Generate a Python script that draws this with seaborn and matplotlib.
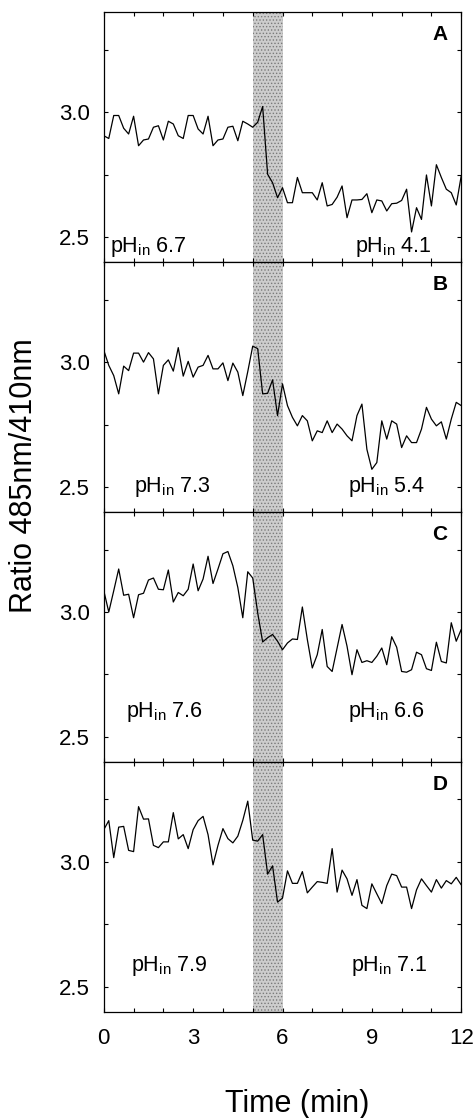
import numpy as np
import pandas as pd
import matplotlib
matplotlib.use('Agg')
import matplotlib.pyplot as plt
import seaborn as sns
from matplotlib.ticker import MultipleLocator

# sampling grid: one reading every 10 s for 12 min
time_s = np.arange(0, 730, 10)

ratio_a = [2.906, 2.895, 2.987, 2.987, 2.936, 2.913, 2.984, 2.866, 2.889, 2.893,
           2.940, 2.946, 2.889, 2.964, 2.953, 2.906, 2.895, 2.987, 2.987, 2.933,
           2.913, 2.984, 2.866, 2.889, 2.893, 2.940, 2.944, 2.886, 2.964, 2.953,
           2.940, 2.960, 3.023, 2.752, 2.718, 2.658, 2.698, 2.638, 2.638, 2.739,
           2.678, 2.678, 2.678, 2.649, 2.718, 2.625, 2.631, 2.660, 2.705, 2.578,
           2.649, 2.649, 2.651, 2.674, 2.598, 2.649, 2.645, 2.605, 2.634, 2.636,
           2.647, 2.692, 2.521, 2.618, 2.571, 2.749, 2.625, 2.790, 2.739, 2.692,
           2.678, 2.629, 2.745]
ratio_b = [3.047, 2.987, 2.946, 2.873, 2.984, 2.966, 3.036, 3.036, 3.000, 3.038,
           3.013, 2.873, 2.987, 3.009, 2.964, 3.058, 2.944, 3.003, 2.940, 2.980,
           2.987, 3.027, 2.973, 2.973, 2.997, 2.926, 2.996, 2.960, 2.866, 2.962,
           3.064, 3.054, 2.873, 2.875, 2.929, 2.786, 2.913, 2.826, 2.779, 2.745,
           2.786, 2.765, 2.685, 2.725, 2.718, 2.765, 2.718, 2.752, 2.732, 2.705,
           2.685, 2.786, 2.832, 2.651, 2.571, 2.598, 2.765, 2.692, 2.765, 2.752,
           2.658, 2.705, 2.678, 2.678, 2.732, 2.819, 2.772, 2.745, 2.761, 2.692,
           2.772, 2.839, 2.826]
ratio_c = [3.085, 3.000, 3.085, 3.172, 3.067, 3.071, 2.977, 3.069, 3.075, 3.128,
           3.136, 3.091, 3.089, 3.168, 3.040, 3.078, 3.065, 3.091, 3.192, 3.085,
           3.132, 3.223, 3.114, 3.172, 3.233, 3.242, 3.185, 3.098, 2.977, 3.161,
           3.136, 2.997, 2.880, 2.897, 2.910, 2.883, 2.849, 2.876, 2.892, 2.890,
           3.020, 2.890, 2.776, 2.829, 2.930, 2.782, 2.762, 2.856, 2.950, 2.863,
           2.749, 2.849, 2.798, 2.805, 2.798, 2.823, 2.856, 2.789, 2.901, 2.859,
           2.762, 2.759, 2.769, 2.839, 2.829, 2.773, 2.766, 2.879, 2.802, 2.796,
           2.957, 2.883, 2.930]
ratio_d = [3.129, 3.165, 3.017, 3.139, 3.142, 3.046, 3.041, 3.221, 3.171, 3.172,
           3.066, 3.057, 3.080, 3.080, 3.197, 3.092, 3.109, 3.053, 3.129, 3.165,
           3.182, 3.109, 2.988, 3.066, 3.133, 3.093, 3.076, 3.103, 3.166, 3.243,
           3.087, 3.083, 3.109, 2.951, 2.984, 2.839, 2.855, 2.964, 2.914, 2.914,
           2.961, 2.876, 2.899, 2.921, 2.918, 2.914, 3.053, 2.879, 2.967, 2.932,
           2.866, 2.929, 2.826, 2.813, 2.912, 2.872, 2.833, 2.905, 2.951, 2.945,
           2.899, 2.899, 2.813, 2.888, 2.932, 2.905, 2.879, 2.929, 2.895, 2.925,
           2.912, 2.938, 2.908]

panel_ids = ['A', 'B', 'C', 'D']
ph_before = ['6.7', '7.3', '7.6', '7.9']
ph_after = ['4.1', '5.4', '6.6', '7.1']
pulse_start, pulse_end = 5, 6  # min, shaded period

sns.set_theme(style='ticks')
plt.rcParams['font.family'] = ['Liberation Sans', 'DejaVu Sans']
plt.rcParams['mathtext.fontset'] = 'custom'
plt.rcParams['mathtext.rm'] = 'Liberation Sans'
plt.rcParams['mathtext.it'] = 'Liberation Sans'
plt.rcParams['hatch.linewidth'] = 0.6
# plain black text, like the printed figure
for key in ['text.color', 'axes.labelcolor', 'xtick.color', 'ytick.color', 'axes.edgecolor']:
    plt.rcParams[key] = 'black'


def main():
    fig, axes = plt.subplots(4, 1, sharex=True, figsize=(4.74, 11.18), dpi=100)
    fig.subplots_adjust(left=0.219, right=0.973, top=0.989, bottom=0.095, hspace=0)

    # label positions (min, ratio) for the left / right pH annotations
    left_pos = [(0.2, 2.46), (1.0, 2.50), (0.75, 2.60), (0.9, 2.585)]
    right_pos = [(8.45, 2.46), (8.2, 2.50), (8.2, 2.60), (8.3, 2.585)]

    for i, ratio in enumerate([ratio_a, ratio_b, ratio_c, ratio_d]):
        ax = axes[i]
        df = pd.DataFrame({'time': time_s / 60, 'ratio': ratio})
        ax.axvspan(pulse_start, pulse_end, facecolor='#cdcdcd', edgecolor='#7a7a7a',
                   hatch='.....', lw=0, zorder=0)
        sns.lineplot(ax=ax, data=df, x='time', y='ratio', color='black', lw=0.9)
        ax.set_xlim(0, 12)
        ax.set_ylim(2.4, 3.4)
        ax.set_xlabel('')
        ax.set_ylabel('')
        ax.yaxis.set_major_locator(MultipleLocator(0.5))
        ax.yaxis.set_minor_locator(MultipleLocator(0.25))
        ax.xaxis.set_major_locator(MultipleLocator(3))
        ax.xaxis.set_minor_locator(MultipleLocator(1))
        ax.tick_params(which='both', direction='in', top=True, right=True,
                       length=3, width=0.8, labelsize=16, pad=10)
        for sp in ax.spines.values():
            sp.set_linewidth(0.9)

        ax.text(0.962, 0.91, panel_ids[i], transform=ax.transAxes, ha='right', va='center',
                fontsize=15, fontweight='bold')
        ax.text(*left_pos[i], r'pH$_{\mathrm{in}}$ ' + ph_before[i], ha='left', va='center',
                fontsize=15.5)
        ax.text(*right_pos[i], r'pH$_{\mathrm{in}}$ ' + ph_after[i], ha='left', va='center',
                fontsize=15.5)

    axes[-1].tick_params(axis='x', pad=12)
    axes[-1].set_xlabel('Time (min)', fontsize=22)
    axes[-1].xaxis.set_label_coords(0.54, -0.31)
    axes[-1].xaxis.label.set_va('top')
    fig.text(0.051, 0.575, 'Ratio 485nm/410nm', rotation=90, ha='center', va='center',
             fontsize=22)

    fig.savefig('out.png', dpi=100)


if __name__ == '__main__':
    main()
